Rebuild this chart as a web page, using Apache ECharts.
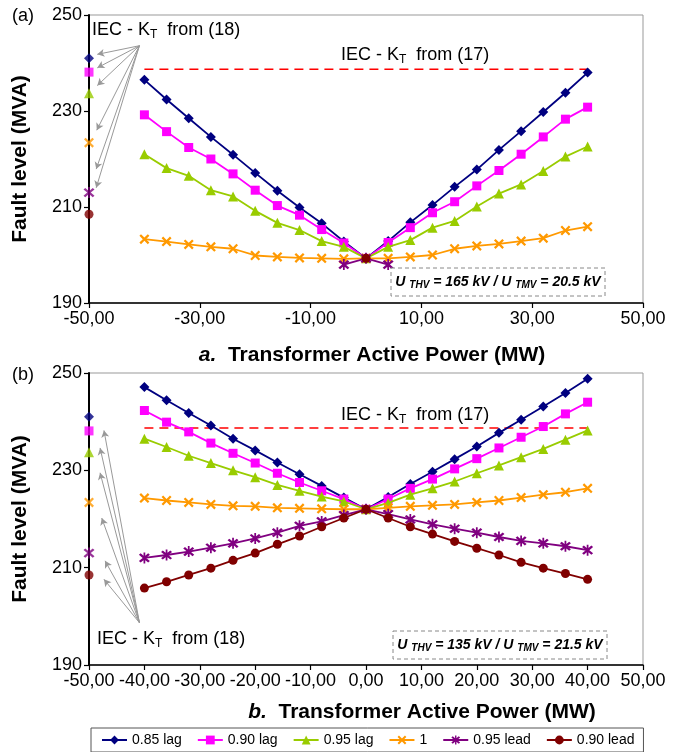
<!DOCTYPE html>
<html>
<head>
<meta charset="utf-8">
<script src="https://cdn.jsdelivr.net/npm/echarts@6/dist/echarts.min.js"></script>
<style>
  html, body { margin: 0; padding: 0; background: #fff; }
  #chart { width: 688px; height: 752px; }
</style>
</head>
<body>
<div id="chart"></div>
<script>
// transformer active power (MW), one point every 4 MW
var powerMW = [-40, -36, -32, -28, -24, -20, -16, -12, -8, -4, 0, 4, 8, 12, 16, 20, 24, 28, 32, 36, 40];

var pfNames = ['0.85 lag', '0.90 lag', '0.95 lag', '1', '0.95 lead', '0.90 lead'];

// (a) U_THV = 165 kV / U_TMV = 20.5 kV
var aLag085 = [236.5, 232.4, 228.5, 224.6, 220.9, 217.1, 213.4, 209.9, 206.6, 202.8, 199.3, 202.9, 206.8, 210.4, 214.2, 217.8, 221.9, 225.8, 229.8, 233.8, 238.0];
var aLag090 = [229.2, 225.7, 222.4, 220.0, 216.9, 213.5, 210.3, 208.3, 205.3, 202.5, 199.3, 202.6, 205.7, 208.8, 211.1, 214.4, 217.6, 221.0, 224.6, 228.3, 230.8];
var aLag095 = [221.0, 218.1, 216.5, 213.5, 212.2, 209.2, 206.7, 205.2, 202.9, 201.7, 199.3, 201.7, 203.1, 205.7, 207.1, 210.1, 212.8, 214.7, 217.5, 220.5, 222.6];
var aUnity = [203.3, 202.8, 202.2, 201.7, 201.3, 199.9, 199.6, 199.4, 199.3, 199.2, 199.3, 199.3, 199.6, 200.0, 201.3, 201.9, 202.3, 202.9, 203.5, 205.1, 205.9];
var aLead095 = [null, null, null, null, null, null, null, null, null, 198.0, 199.3, 198.0, null, null, null, null, null, null, null, null, null];
var aLead090 = [null, null, null, null, null, null, null, null, null, null, 199.3, null, null, null, null, null, null, null, null, null, null];

// (b) U_THV = 135 kV / U_TMV = 21.5 kV
var bLag085 = [247.1, 244.4, 241.8, 239.2, 236.5, 234.1, 231.6, 229.2, 226.8, 224.4, 222.0, 224.5, 227.2, 229.7, 232.3, 234.9, 237.7, 240.4, 243.1, 245.9, 248.8];
var bLag090 = [242.3, 239.9, 237.9, 235.6, 233.5, 231.5, 229.4, 227.5, 225.8, 224.1, 222.0, 224.1, 226.3, 228.2, 230.3, 232.4, 234.6, 236.8, 239.0, 241.6, 244.0];
var bLag095 = [236.5, 234.8, 233.0, 231.5, 230.0, 228.6, 227.0, 225.8, 224.6, 223.6, 222.0, 223.3, 225.0, 226.3, 227.7, 229.4, 231.0, 232.7, 234.4, 236.3, 238.2];
var bUnity = [224.3, 223.8, 223.4, 223.0, 222.7, 222.6, 222.3, 222.2, 222.1, 222.0, 222.0, 222.3, 222.6, 222.8, 223.0, 223.4, 223.8, 224.4, 225.0, 225.5, 226.3];
var bLead095 = [212.0, 212.6, 213.3, 214.1, 215.0, 216.0, 217.2, 218.6, 219.5, 220.8, 222.0, 221.0, 219.9, 218.9, 218.0, 217.2, 216.3, 215.5, 215.0, 214.4, 213.6];
var bLead090 = [205.8, 207.1, 208.5, 209.9, 211.5, 213.0, 214.8, 216.5, 218.4, 220.2, 222.0, 220.2, 218.4, 216.9, 215.4, 214.0, 212.6, 211.1, 209.9, 208.8, 207.6];

// IEC - KT from (18), one value per power factor, plotted at -50 MW
var iec18X = -50;
var iec18 = [241.0, 238.1, 233.7, 223.4, 213.0, 208.5];
// IEC - KT from (17)
var iec17X = [-40, 40];
var iec17 = 238.7;

// arrows from the "(18)" labels to the points
var arrowFromA = [-40.9, 243.6];
var arrowToA = [[-48.5, 241.8], [-48.5, 239.0], [-48.5, 235.3], [-48.6, 226.0], [-48.7, 217.9], [-48.7, 214.0]];
var arrowFromB = [-40.9, 198.7];
var arrowToB = [[-47.3, 238.2], [-48.0, 234.6], [-48.0, 229.5], [-47.7, 220.2], [-47.1, 211.4], [-47.3, 207.6]];

var xTicksA = [-50, -30, -10, 10, 30, 50];
var yTicks = [190, 210, 230, 250];

var colors = ['#000080', '#ff00ff', '#99cc00', '#ff9900', '#800080', '#800000'];
var crossPath = 'path://M0,1.6L1.6,0L5,3.4L8.4,0L10,1.6L6.6,5L10,8.4L8.4,10L5,6.6L1.6,10L0,8.4L3.4,5Z';
var starPath = 'path://M0,1.6L1.6,0L5,3.4L8.4,0L10,1.6L6.6,5L10,8.4L8.4,10L5,6.6L1.6,10L0,8.4L3.4,5ZM4.2,-1L5.8,-1L5.8,11L4.2,11Z';
var symbols = ['diamond', 'rect', 'triangle', crossPath, starPath, 'circle'];
var sizes = [10, 9, 10, 10, 11, 9];

var FONT = '"Liberation Sans", Arial, sans-serif';

function fmtComma(v) {
  return v.toFixed(2).replace('.', ',');
}

function pfSeries(grid, values, i) {
  return {
    type: 'line',
    name: pfNames[i],
    xAxisIndex: grid,
    yAxisIndex: grid,
    data: powerMW.map(function (x, k) { return [x, values[k] == null ? '-' : values[k]]; }),
    symbol: symbols[i],
    symbolSize: sizes[i],
    showAllSymbol: true,
    lineStyle: { color: colors[i], width: 1.8 },
    itemStyle: { color: colors[i], borderWidth: 0 },
    z: 3 + i
  };
}

function iec18Series(grid, from, to) {
  return {
    type: 'scatter',
    xAxisIndex: grid,
    yAxisIndex: grid,
    data: iec18.map(function (v, i) {
      return { value: [iec18X, v], symbol: symbols[i], symbolSize: sizes[i], itemStyle: { color: colors[i] } };
    }),
    z: 10,
    markLine: {
      silent: true,
      symbol: ['none', 'arrow'],
      symbolSize: [6, 7],
      label: { show: false },
      lineStyle: { color: '#999', width: 1, type: 'solid' },
      data: to.map(function (t) { return [{ coord: from }, { coord: t }]; })
    }
  };
}

function iec17Series(grid) {
  return {
    type: 'line',
    xAxisIndex: grid,
    yAxisIndex: grid,
    data: iec17X.map(function (x) { return [x, iec17]; }),
    symbol: 'none',
    lineStyle: { color: '#ff0000', width: 1.6, type: [9, 6] },
    z: 2
  };
}

function xAxisCfg(grid, ticks, interval) {
  var ax = {
    type: 'value', gridIndex: grid, min: -50, max: 50,
    axisLine: { onZero: false, lineStyle: { color: '#000', width: 1.5 } },
    axisTick: { show: true, length: 5, lineStyle: { color: '#000', width: 1.2 } },
    axisLabel: { fontSize: 18, fontFamily: FONT, color: '#000', margin: 7, formatter: fmtComma },
    splitLine: { show: false }
  };
  if (ticks) {
    ax.axisTick.customValues = ticks;
    ax.axisLabel.customValues = ticks;
  } else {
    ax.interval = interval;
  }
  return ax;
}

function yAxisCfg(grid) {
  return {
    type: 'value', gridIndex: grid, min: 190, max: 250,
    name: 'Fault level (MVA)', nameLocation: 'middle', nameGap: 58,
    nameTextStyle: { fontSize: 21, fontWeight: 'bold', fontFamily: FONT, color: '#000' },
    axisLine: { onZero: false, lineStyle: { color: '#000', width: 2 } },
    axisTick: { show: true, length: 5, customValues: yTicks, lineStyle: { color: '#000', width: 1.2 } },
    axisLabel: { fontSize: 18, fontFamily: FONT, color: '#000', margin: 7, customValues: yTicks },
    splitLine: { show: false }
  };
}

var subRich = {
  n: { fontSize: 18, fontFamily: FONT, color: '#000' },
  s: { fontSize: 12, fontFamily: FONT, color: '#000', padding: [9, 0, 0, 0] }
};
var uRich = {
  b: { fontSize: 14, fontFamily: FONT, fontWeight: 'bold', fontStyle: 'italic', color: '#000' },
  s: { fontSize: 10, fontFamily: FONT, fontWeight: 'bold', fontStyle: 'italic', color: '#000', padding: [6, 0, 0, 0] }
};
var titleRich = {
  i: { fontSize: 21, fontFamily: FONT, fontWeight: 'bold', fontStyle: 'italic', color: '#000' },
  b: { fontSize: 21, fontFamily: FONT, fontWeight: 'bold', color: '#000' }
};

function txt(x, y, text, rich, align) {
  return {
    type: 'text', x: x, y: y, z: 20,
    style: { text: text, rich: rich, align: align || 'left', verticalAlign: 'middle' }
  };
}

function dashBox(x, y, w, h) {
  return {
    type: 'rect', z: 19,
    shape: { x: x, y: y, width: w, height: h },
    style: { fill: '#fff', stroke: '#888', lineWidth: 1, lineDash: [4, 3] }
  };
}

var series = [];
[aLag085, aLag090, aLag095, aUnity, aLead095, aLead090].forEach(function (v, i) { series.push(pfSeries(0, v, i)); });
[bLag085, bLag090, bLag095, bUnity, bLead095, bLead090].forEach(function (v, i) { series.push(pfSeries(1, v, i)); });
series.push(iec17Series(0), iec17Series(1));
series.push(iec18Series(0, arrowFromA, arrowToA), iec18Series(1, arrowFromB, arrowToB));

var chart = echarts.init(document.getElementById('chart'), null, { renderer: 'canvas' });
chart.setOption({
  animation: false,
  backgroundColor: '#fff',
  textStyle: { fontFamily: FONT },
  grid: [
    { left: 89, right: 45, top: 15, height: 288, show: true, borderColor: '#999', borderWidth: 1 },
    { left: 89, right: 45, top: 373, height: 292, show: true, borderColor: '#999', borderWidth: 1 }
  ],
  xAxis: [xAxisCfg(0, xTicksA), xAxisCfg(1, null, 10)],
  yAxis: [yAxisCfg(0), yAxisCfg(1)],
  legend: {
    data: pfNames,
    left: 91, top: 728,
    padding: [5, 9, 5, 10],
    itemWidth: 25, itemHeight: 11, itemGap: 15,
    borderColor: '#555', borderWidth: 1,
    textStyle: { fontSize: 14, fontFamily: FONT, color: '#000' }
  },
  series: series,
  graphic: [
    txt(12, 16, '{n|(a)}', subRich),
    txt(12, 375, '{n|(b)}', subRich),
    txt(92, 30, '{n|IEC - K}{s|T}{n|  from (18)}', subRich),
    txt(97, 639, '{n|IEC - K}{s|T}{n|  from (18)}', subRich),
    txt(341, 55, '{n|IEC - K}{s|T}{n|  from (17)}', subRich),
    txt(341, 415, '{n|IEC - K}{s|T}{n|  from (17)}', subRich),
    dashBox(391, 268, 214, 28),
    txt(498, 282, '{b|U }{s|THV}{b| = 165 kV / U }{s|TMV}{b| = 20.5 kV}', uRich, 'center'),
    dashBox(393, 631, 214, 28),
    txt(500, 645, '{b|U }{s|THV}{b| = 135 kV / U }{s|TMV}{b| = 21.5 kV}', uRich, 'center'),
    txt(372, 355, '{i|a.}{b|  Transformer Active Power (MW)}', titleRich, 'center'),
    txt(422, 712, '{i|b.}{b|  Transformer Active Power (MW)}', titleRich, 'center')
  ]
});
</script>
</body>
</html>
